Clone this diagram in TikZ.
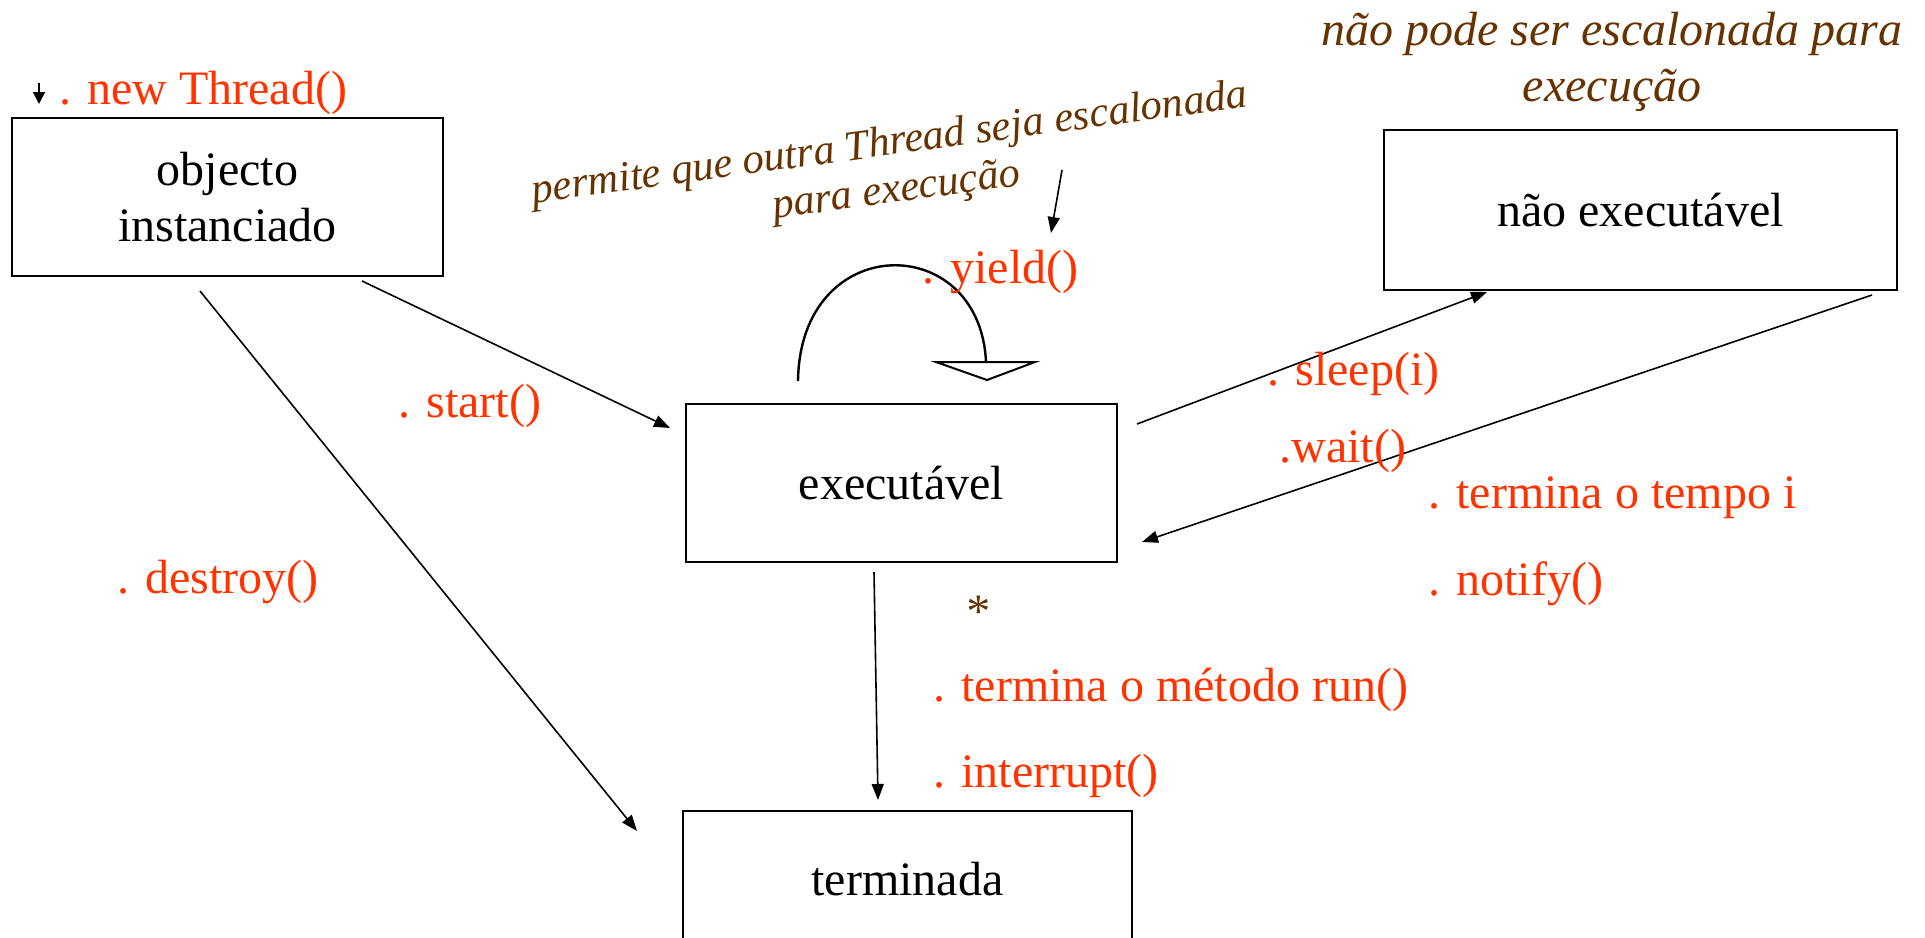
\documentclass[tikz,border=0pt]{standalone}
\usepackage{fontspec}
\setmainfont{Liberation Serif}
\usetikzlibrary{arrows.meta}
\definecolor{lblred}{HTML}{FF3300}
\definecolor{notebrown}{HTML}{663300}
\begin{document}
\begin{tikzpicture}[x=0.5pt,y=-0.5pt,
  statebox/.style={draw,line width=1pt,inner sep=0pt,align=center,font=\fontsize{24}{28}\selectfont},
  lbl/.style={text=lblred,font=\fontsize{24}{28}\selectfont,anchor=west,inner sep=0pt},
  note/.style={text=notebrown,font=\fontsize{24}{28}\selectfont\itshape,inner sep=0pt,align=center},
  rnote/.style={text=notebrown,font=\fontsize{21.3}{22}\selectfont\itshape,inner sep=0pt,rotate=7.7,anchor=base},
  conn/.style={line width=0.8pt,-{Triangle[length=8pt,width=6pt]}},
]
\useasboundingbox (0,0) rectangle (1925,937);
\clip (0,0) rectangle (1925,937);

% states
\node[statebox,minimum width=215.5pt,minimum height=79pt] (obj) at (227.5,197) {objecto\\instanciado};
\node[statebox,minimum width=215.5pt,minimum height=79pt] (exe) at (901.5,483) {executável};
\node[statebox,minimum width=256.5pt,minimum height=80pt] (nex) at (1640.5,210) {não executável};
\node[statebox,minimum width=224.5pt,minimum height=68pt] (ter) at (907.5,879) {terminada};

% connector end points
\coordinate (nt1) at (39,83);   \coordinate (nt2) at (39,104);
\coordinate (oe1) at (362,281); \coordinate (oe2) at (670,428);
\coordinate (ot1) at (200,291); \coordinate (ot2) at (637,831);
\coordinate (et1) at (874,572); \coordinate (et2) at (878,800);
\coordinate (en1) at (1137,424); \coordinate (en2) at (1487,292);
\coordinate (ne1) at (1872,295); \coordinate (ne2) at (1142,542);
\coordinate (yl1) at (798,381); \coordinate (yl2) at (986,362);
\coordinate (yp1) at (1062,170); \coordinate (yp2) at (1051,233);

% connectors
\draw[line width=0.8pt,-{Triangle[length=6pt,width=6pt]}] (nt1) -- (nt2);
\draw[conn] (oe1) -- (oe2);
\draw[conn] (ot1) -- (ot2);
\draw[conn] (et1) -- (et2);
\draw[conn] (en1) -- (en2);
\draw[conn] (ne1) -- (ne2);
\draw[conn] (yp1) -- (yp2);

% yield loop with hollow triangle head
\draw[line width=1.2pt] (yl1) .. controls (800,230) and (980,230) .. (yl2);
\draw[line width=1pt,fill=white] (936,362) -- (1035,362) -- (987,380) -- cycle;

% red labels
\node[lbl] (lnew) at (59,93) {. new Thread()};
\node[lbl] (lstart) at (398,406) {. start()};
\node[lbl] (ldestroy) at (117,582) {. destroy()};
\node[lbl] (lyield) at (922,272) {. yield()};
\node[lbl] (lsleep) at (1267,374) {. sleep(i)};
\node[lbl] (lwait) at (1279,451) {.wait()};
\node[lbl] (ltempo) at (1428,498) {. termina o tempo i};
\node[lbl] (lnotify) at (1428,584) {. notify()};
\node[lbl] (lrun) at (933,690) {. termina o método run()};
\node[lbl] (lint) at (933,776) {. interrupt()};

% brown notes
\node[note] (star) at (976,612) {*};
\node[note] (nn1) at (1612,34) {não pode ser escalonada para};
\node[note] (nn2) at (1612,90) {execução};
\node[rnote] (pn1) at (891,155) {permite que outra Thread seja escalonada};
\node[rnote] (pn2) at (898,202) {para execução};
\end{tikzpicture}
\end{document}
